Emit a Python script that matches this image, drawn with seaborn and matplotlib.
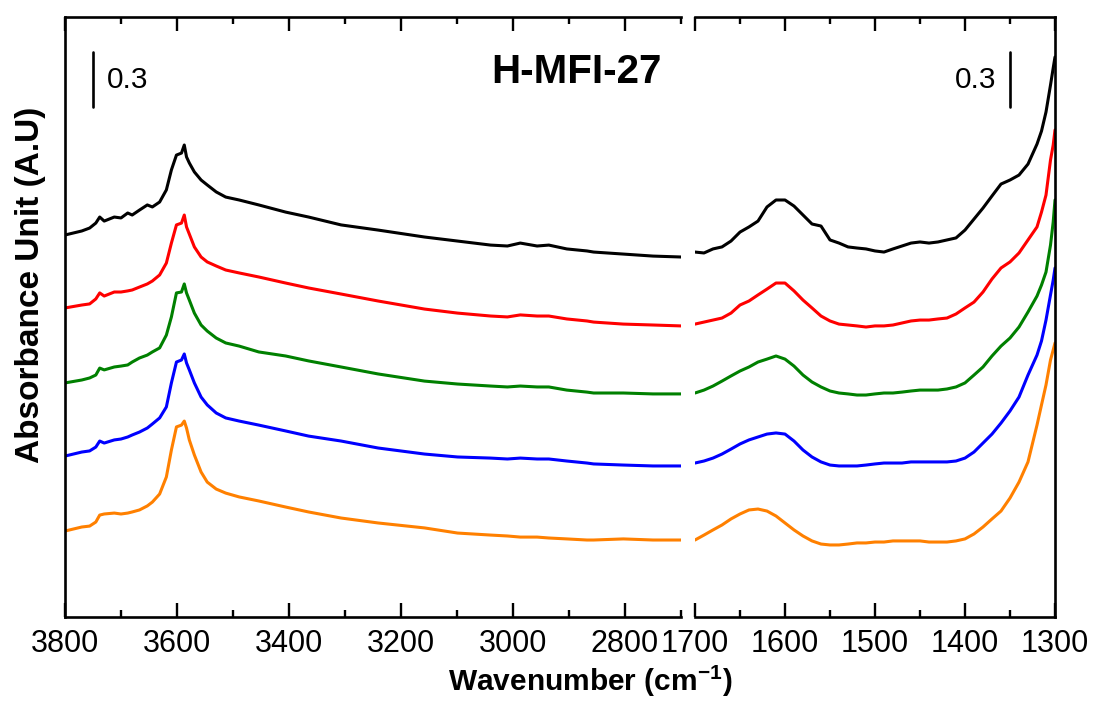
import numpy as np
import pandas as pd
import matplotlib
matplotlib.use("Agg")
import matplotlib.pyplot as plt
from matplotlib.ticker import MultipleLocator
import seaborn as sns

# ---------------- data ----------------
# O-H stretching region (cm-1)
wn_oh = [3800, 3770, 3756, 3745, 3738, 3730, 3712, 3700, 3688, 3680, 3667, 3653,
         3644, 3631, 3619, 3610, 3601, 3592, 3587, 3583, 3578, 3569, 3557, 3546,
         3530, 3513, 3489, 3454, 3406, 3365, 3307, 3241, 3158, 3099, 3040, 3010,
         2987, 2957, 2936, 2904, 2868, 2856, 2803, 2750, 2700]

oh_black = [2.084, 2.106, 2.122, 2.149, 2.182, 2.160, 2.182, 2.177, 2.204, 2.193,
            2.220, 2.248, 2.237, 2.264, 2.330, 2.439, 2.520, 2.531, 2.575, 2.510,
            2.477, 2.428, 2.384, 2.357, 2.319, 2.291, 2.275, 2.248, 2.209, 2.182,
            2.139, 2.111, 2.073, 2.051, 2.029, 2.024, 2.040, 2.024, 2.029, 2.008,
            1.997, 1.991, 1.980, 1.969, 1.964]
oh_red = [1.686, 1.702, 1.708, 1.735, 1.768, 1.751, 1.773, 1.773, 1.779, 1.784,
          1.800, 1.817, 1.833, 1.866, 1.931, 2.040, 2.139, 2.149, 2.193, 2.128,
          2.089, 2.019, 1.964, 1.937, 1.915, 1.893, 1.877, 1.855, 1.822, 1.795,
          1.762, 1.724, 1.680, 1.658, 1.642, 1.637, 1.648, 1.642, 1.642, 1.626,
          1.615, 1.609, 1.598, 1.593, 1.588]
oh_green = [1.277, 1.293, 1.304, 1.320, 1.358, 1.348, 1.364, 1.369, 1.375, 1.391,
            1.413, 1.429, 1.446, 1.468, 1.538, 1.637, 1.768, 1.773, 1.817, 1.768,
            1.729, 1.658, 1.593, 1.560, 1.522, 1.495, 1.478, 1.446, 1.424, 1.397,
            1.364, 1.326, 1.287, 1.271, 1.260, 1.255, 1.260, 1.255, 1.255, 1.238,
            1.227, 1.222, 1.222, 1.217, 1.217]
oh_blue = [0.878, 0.900, 0.906, 0.927, 0.960, 0.949, 0.966, 0.971, 0.982, 0.993,
           1.009, 1.031, 1.053, 1.086, 1.146, 1.277, 1.391, 1.402, 1.435, 1.386,
           1.348, 1.277, 1.200, 1.157, 1.113, 1.086, 1.069, 1.047, 1.015, 0.987,
           0.960, 0.922, 0.889, 0.873, 0.867, 0.862, 0.867, 0.862, 0.862, 0.851,
           0.840, 0.835, 0.829, 0.824, 0.824]
oh_orange = [0.469, 0.491, 0.496, 0.518, 0.556, 0.562, 0.567, 0.562, 0.567, 0.573,
             0.584, 0.606, 0.627, 0.671, 0.764, 0.911, 1.037, 1.047, 1.069, 1.031,
             0.966, 0.884, 0.791, 0.736, 0.698, 0.676, 0.655, 0.633, 0.600, 0.573,
             0.540, 0.513, 0.486, 0.458, 0.447, 0.442, 0.436, 0.436, 0.431, 0.426,
             0.420, 0.420, 0.426, 0.420, 0.420]

# Framework / bending region (cm-1)
wn_fw = [1700, 1690, 1680, 1670, 1660, 1650, 1640, 1630, 1620, 1610, 1600, 1590,
         1580, 1570, 1560, 1550, 1540, 1530, 1520, 1510, 1500, 1490, 1480, 1470,
         1460, 1450, 1440, 1430, 1420, 1410, 1400, 1390, 1380, 1370, 1360, 1350,
         1340, 1330, 1320, 1315, 1310, 1305, 1302, 1300]

fw_black = [1.991, 1.986, 2.008, 2.019, 2.051, 2.100, 2.128, 2.160, 2.237, 2.275,
            2.275, 2.242, 2.193, 2.144, 2.133, 2.057, 2.040, 2.019, 2.013, 2.008,
            1.997, 1.991, 2.008, 2.024, 2.040, 2.046, 2.040, 2.046, 2.057, 2.068,
            2.111, 2.171, 2.231, 2.297, 2.362, 2.384, 2.411, 2.471, 2.580, 2.651,
            2.755, 2.902, 2.995, 3.055]
fw_red = [1.598, 1.609, 1.620, 1.631, 1.658, 1.702, 1.724, 1.757, 1.789, 1.822,
          1.822, 1.779, 1.729, 1.686, 1.642, 1.615, 1.598, 1.593, 1.588, 1.582,
          1.588, 1.588, 1.593, 1.604, 1.615, 1.620, 1.620, 1.626, 1.631, 1.653,
          1.686, 1.718, 1.773, 1.844, 1.904, 1.937, 1.986, 2.057, 2.128, 2.209,
          2.302, 2.493, 2.575, 2.657]
fw_green = [1.222, 1.238, 1.260, 1.287, 1.315, 1.342, 1.364, 1.391, 1.407, 1.424,
            1.407, 1.369, 1.320, 1.282, 1.255, 1.233, 1.222, 1.217, 1.211, 1.211,
            1.217, 1.222, 1.222, 1.227, 1.233, 1.238, 1.238, 1.238, 1.244, 1.255,
            1.277, 1.320, 1.364, 1.424, 1.478, 1.522, 1.582, 1.664, 1.751, 1.811,
            1.882, 2.029, 2.155, 2.275]
fw_blue = [0.840, 0.851, 0.867, 0.889, 0.916, 0.944, 0.966, 0.982, 0.998, 1.004,
           0.998, 0.960, 0.911, 0.873, 0.846, 0.829, 0.824, 0.824, 0.824, 0.829,
           0.835, 0.840, 0.840, 0.840, 0.846, 0.846, 0.846, 0.846, 0.846, 0.851,
           0.867, 0.900, 0.949, 0.998, 1.058, 1.124, 1.200, 1.320, 1.429, 1.506,
           1.620, 1.757, 1.838, 1.904]
fw_orange = [0.420, 0.447, 0.475, 0.502, 0.535, 0.562, 0.584, 0.589, 0.578, 0.551,
             0.513, 0.475, 0.442, 0.415, 0.398, 0.393, 0.393, 0.398, 0.404, 0.404,
             0.409, 0.409, 0.415, 0.415, 0.415, 0.415, 0.409, 0.409, 0.409, 0.415,
             0.426, 0.453, 0.491, 0.535, 0.578, 0.649, 0.736, 0.846, 1.047, 1.157,
             1.266, 1.402, 1.457, 1.495]

series_names = ["s1", "s2", "s3", "s4", "s5"]
series_colors = ["#000000", "#ff0000", "#008000", "#0000ff", "#ff8000"]
oh_series = [oh_black, oh_red, oh_green, oh_blue, oh_orange]
fw_series = [fw_black, fw_red, fw_green, fw_blue, fw_orange]

title_text = "H-MFI-27"
scale_value = 0.3

# ---------------- figure ----------------
sns.set_style("white")
plt.rcParams["font.family"] = ["Liberation Sans", "DejaVu Sans"]
plt.rcParams["text.color"] = "black"
plt.rcParams["axes.labelcolor"] = "black"
plt.rcParams["xtick.color"] = "black"
plt.rcParams["mathtext.fontset"] = "custom"
plt.rcParams["mathtext.rm"] = "Liberation Sans"
plt.rcParams["mathtext.bf"] = "Liberation Sans:bold"

fig = plt.figure(figsize=(11.02, 7.02), dpi=100)
W, H = 1102, 702
bottom = 1 - 617 / H
height = 600 / H
ax1 = fig.add_axes([65 / W, bottom, 616 / W, height])
ax2 = fig.add_axes([695 / W, bottom, 360 / W, height])

df_oh = pd.DataFrame({"wn": np.repeat(wn_oh, 5),
                      "A": np.ravel(np.column_stack(oh_series)),
                      "sample": np.tile(series_names, len(wn_oh))})
df_fw = pd.DataFrame({"wn": np.repeat(wn_fw, 5),
                      "A": np.ravel(np.column_stack(fw_series)),
                      "sample": np.tile(series_names, len(wn_fw))})

palette = dict(zip(series_names, series_colors))
for ax, df in ((ax1, df_oh), (ax2, df_fw)):
    sns.lineplot(data=df, x="wn", y="A", hue="sample", palette=palette,
                 estimator=None, linewidth=2.2, legend=False, ax=ax)

ylim = (0, 600 / 183.3)
ax1.set_xlim(3800, 2700)
ax2.set_xlim(1700, 1300)
for ax in (ax1, ax2):
    ax.set_ylim(*ylim)
    ax.set_xlabel("")
    ax.set_ylabel("")
    ax.set_yticks([])
    ax.tick_params(axis="x", which="both", direction="in", top=True, bottom=True,
                   labelsize=22, pad=9, width=1.7, colors="black",
                   labelcolor="black")
    ax.tick_params(axis="x", which="major", length=10)
    ax.tick_params(axis="x", which="minor", length=5)
    for s in ax.spines.values():
        s.set_linewidth(1.9)
        s.set_color("black")

ax1.xaxis.set_major_locator(MultipleLocator(200))
ax1.xaxis.set_minor_locator(MultipleLocator(100))
ax2.xaxis.set_major_locator(MultipleLocator(100))
ax2.xaxis.set_minor_locator(MultipleLocator(50))
ax1.spines["right"].set_visible(False)
ax2.spines["left"].set_visible(False)

# scale bars
ax1.plot([3750, 3750], [2.782, 2.782 + scale_value], color="black", lw=1.9)
ax1.text(3725, 2.782 + scale_value / 2, f"{scale_value}", fontsize=21.5,
         ha="left", va="center", color="black")
ax2.plot([1350, 1350], [2.782, 2.782 + scale_value], color="black", lw=1.9)
ax2.text(1365, 2.782 + scale_value / 2, f"{scale_value}", fontsize=21.5,
         ha="right", va="center", color="black")

fig.text(576 / W, 1 - 72 / H, title_text, fontsize=29, fontweight="bold",
         ha="center", va="center", color="black")
fig.text(590 / W, 1 - 681 / H, r"Wavenumber (cm$^{\mathbf{-1}}$)", fontsize=21.5,
         fontweight="bold", ha="center", va="center", color="black")
fig.text(31 / W, 1 - 285 / H, "Absorbance Unit (A.U)", fontsize=24,
         fontweight="bold", ha="center", va="center", rotation=90, color="black")

fig.savefig("out.png", dpi=100)
